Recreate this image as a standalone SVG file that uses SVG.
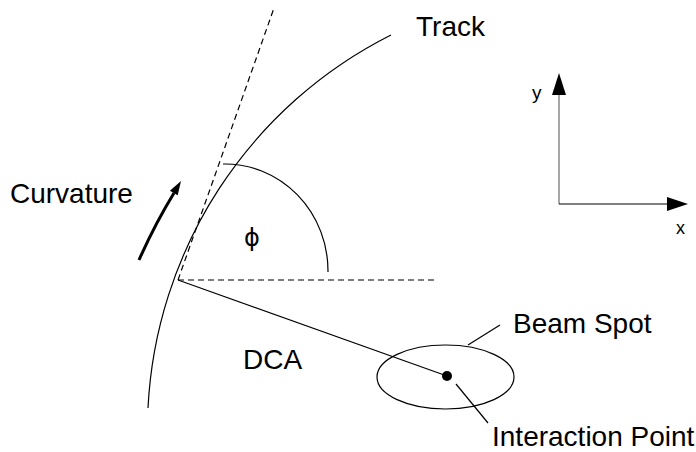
<svg xmlns="http://www.w3.org/2000/svg" width="696" height="452" viewBox="0 0 696 452">
<style>
text{font-family:"Liberation Sans",Arial,sans-serif;fill:#000}
.lbl{font-size:28px}
.ln{fill:none;stroke:#000;stroke-width:1.2}
.dash{fill:none;stroke:#000;stroke-width:1.2;stroke-dasharray:6 4}
</style>
<rect width="696" height="452" fill="#fff"/>
<g id="track">
<path class="ln" d="M 148 408 A 442 442 0 0 1 391 35" stroke-width="1.4"/>
<text class="lbl" x="416" y="36">Track</text>
</g>
<g id="tangent">
<path class="dash" d="M 178 280 L 274 8"/>
</g>
<g id="horizontal">
<path class="dash" d="M 178 280 L 434 280"/>
</g>
<g id="phi">
<path class="ln" d="M 223 164 A 103 107 0 0 1 328 272"/>
<text x="252" y="246" font-size="24" text-anchor="middle" style="font-family:'DejaVu Sans',sans-serif">ϕ</text>
</g>
<g id="curvature">
<path d="M 139 260 Q 155 224 174 193" fill="none" stroke="#000" stroke-width="3"/>
<polygon points="181,181 177.7,195.3 169.9,190.7"/>
<text class="lbl" x="10" y="203">Curvature</text>
</g>
<g id="beamspot">
<ellipse cx="445.5" cy="377" rx="68.5" ry="32" class="ln"/>
<text class="lbl" x="513" y="333">Beam Spot</text>
</g>
<g id="ip">
<circle cx="447" cy="376" r="5"/>
<text class="lbl" x="492" y="446">Interaction Point</text>
</g>
<g id="dca">
<text class="lbl" x="243" y="369">DCA</text>
</g>
<g id="axes">
<line x1="559" y1="204" x2="559" y2="94" stroke="#808080" stroke-width="1.4"/>
<polygon points="559,73 552,95 566,95"/>
<line x1="559" y1="204" x2="668" y2="204" stroke="#000" stroke-width="1.2"/>
<polygon points="688,204 667,197 667,211"/>
<text x="532" y="99" font-size="19">y</text>
<text x="676" y="234" font-size="18">x</text>
</g>
<g id="connectors">
<line class="ln" x1="178" y1="280" x2="447" y2="376"/>
<line class="ln" x1="468" y1="345" x2="500" y2="325"/>
<line class="ln" x1="456" y1="384" x2="488" y2="423"/>
</g>
</svg>
